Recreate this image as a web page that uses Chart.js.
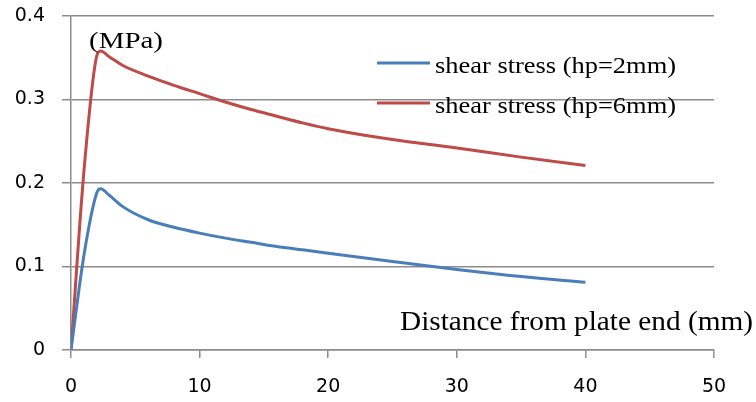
<!DOCTYPE html>
<html>
<head>
<meta charset="utf-8">
<script src="https://cdn.jsdelivr.net/npm/chart.js@4/dist/chart.umd.min.js"></script>
<style>
  html, body { margin: 0; padding: 0; background: #fff; }
  #wrap { width: 756px; height: 402px; }
</style>
</head>
<body>
<div id="wrap"><canvas id="stressChart"></canvas></div>
<script>
// distance from plate end (mm)
const distance = [0, 1, 2, 2.3, 3, 4, 6, 8, 10, 12, 14, 16, 18, 20, 25, 30, 35, 40];
// shear stress (MPa)
const stressHp2 = [0, 0.113, 0.188, 0.193, 0.185, 0.172, 0.156, 0.147, 0.140, 0.134, 0.129, 0.124, 0.120, 0.116, 0.106, 0.0965, 0.088, 0.081];
const stressHp6 = [0, 0.213, 0.352, 0.358, 0.351, 0.341, 0.328, 0.317, 0.307, 0.297, 0.288, 0.280, 0.272, 0.265, 0.252, 0.242, 0.231, 0.221];
const seriesLabels = ['shear stress (hp=2mm)', 'shear stress (hp=6mm)'];
const xTicks = [0, 10, 20, 30, 40, 50];
const yTicks = [0, 0.1, 0.2, 0.3, 0.4];

const blue = '#4a7ebb';
const red = '#be4b48';
const gridGray = '#8c8c8c';
const serif = '"Liberation Serif", "Times New Roman", serif';
const tickFont = { family: '"DejaVu Sans", sans-serif', size: 19 };

function points(ys){
    return distance.map((x, i) => ({ x: x, y: ys[i] }));
}

// serif text, stretched sideways to a given width
function wideText(ctx, text, x, y, size, width){
    ctx.font = size + 'px ' + serif;
    const sx = width / ctx.measureText(text).width;
    ctx.save();
    ctx.translate(x, y);
    ctx.scale(sx, 1);
    ctx.textAlign = 'left';
    ctx.fillText(text, 0, 0);
    ctx.restore();
}

// legend and axis captions drawn over the plot area
const captions = {
    id: 'captions',
    afterDraw(chart){
        const ctx = chart.ctx;
        ctx.save();
        ctx.fillStyle = '#000';
        ctx.textBaseline = 'alphabetic';
        wideText(ctx, '(MPa)', 89, 48, 24, 74);
        wideText(ctx, 'Distance from plate end (mm)', 400, 330, 27, 353);

        const rows = [63, 103];
        chart.data.datasets.forEach((ds, i) => {
            ctx.strokeStyle = ds.borderColor;
            ctx.lineWidth = 3;
            ctx.beginPath();
            ctx.moveTo(377, rows[i]);
            ctx.lineTo(430, rows[i]);
            ctx.stroke();
            wideText(ctx, ds.label, 435, rows[i] + 10, 24, 241);
        });
        ctx.restore();
    }
};

new Chart(document.getElementById('stressChart').getContext('2d'), {
    type: 'line',
    data: {
        datasets: [
            { label: seriesLabels[0], data: points(stressHp2), borderColor: blue, borderWidth: 3, pointRadius: 0, cubicInterpolationMode: 'monotone', fill: false },
            { label: seriesLabels[1], data: points(stressHp6), borderColor: red, borderWidth: 3, pointRadius: 0, cubicInterpolationMode: 'monotone', fill: false }
        ]
    },
    options: {
        responsive: true,
        maintainAspectRatio: false,
        animation: false,
        layout: { padding: { top: 16, right: 42, left: 0, bottom: 0 } },
        plugins: {
            legend: { display: false },
            tooltip: { enabled: false }
        },
        scales: {
            x: {
                type: 'linear',
                min: 0,
                max: 50,
                afterBuildTicks: (scale) => { scale.ticks = xTicks.map(v => ({ value: v })); },
                afterFit: (scale) => { scale.height = 52; },
                grid: { drawOnChartArea: false, drawTicks: true, tickLength: 8, color: gridGray, lineWidth: 1.5 },
                border: { color: gridGray, width: 1.5 },
                ticks: { color: '#000', padding: 18, font: tickFont }
            },
            y: {
                min: 0,
                max: 0.4,
                afterBuildTicks: (scale) => { scale.ticks = yTicks.map(v => ({ value: v })); },
                afterFit: (scale) => { scale.width = 71; scale.paddingTop = 0; },
                grid: { drawOnChartArea: true, drawTicks: true, tickLength: 9, color: gridGray, lineWidth: 1.5 },
                border: { color: gridGray, width: 1.5 },
                ticks: {
                    color: '#000',
                    padding: 17,
                    font: tickFont,
                    callback: (v) => v === 0 ? '0' : v.toFixed(1)
                }
            }
        }
    },
    plugins: [captions]
});
</script>
</body>
</html>
